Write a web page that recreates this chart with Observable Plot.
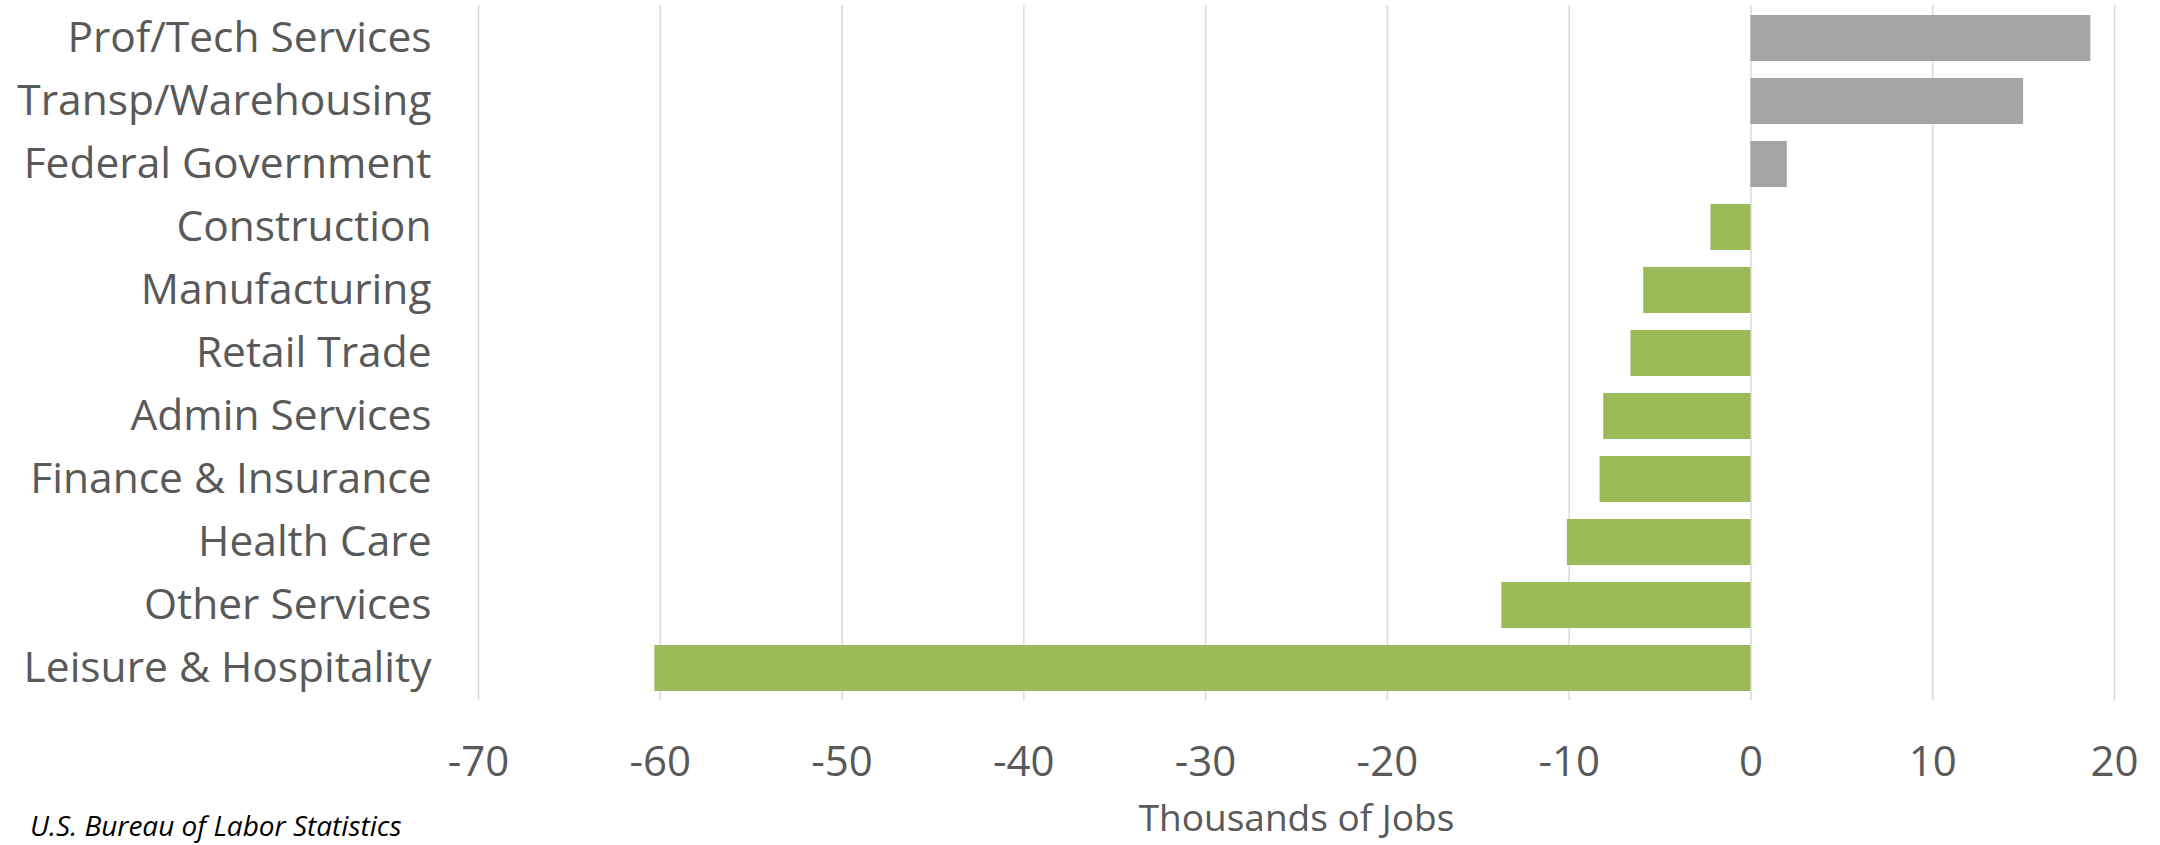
<!DOCTYPE html>
<html>
<head>
<meta charset="utf-8">
<script src="https://cdn.jsdelivr.net/npm/d3@7"></script>
<script src="https://cdn.jsdelivr.net/npm/@observablehq/plot@0.6"></script>
<style>
  html, body { margin: 0; padding: 0; background: #fff; overflow: hidden; }
  #wrap { position: relative; width: 2160px; height: 845px; overflow: hidden; font-family: "Open Sans", sans-serif; }
  #caption { position: absolute; left: 30px; top: 806px; font-size: 28px; font-style: italic; color: #000; white-space: nowrap; }
</style>
</head>
<body>
<div id="wrap">
  <div id="chart"></div>
  <div id="caption">U.S. Bureau of Labor Statistics</div>
</div>
<script>
const categories = ["Prof/Tech Services", "Transp/Warehousing", "Federal Government", "Construction", "Manufacturing", "Retail Trade", "Admin Services", "Finance & Insurance", "Health Care", "Other Services", "Leisure & Hospitality"];
const values = [18.7, 15.0, 2.0, -2.2, -5.9, -6.6, -8.1, -8.3, -10.1, -13.7, -60.3];
const xTicks = [-70, -60, -50, -40, -30, -20, -10, 0, 10, 20];
const xLabel = "Thousands of Jobs";

const data = categories.map((c, i) => ({category: c, value: values[i]}));

const chart = Plot.plot({
  width: 2160,
  height: 845,
  marginLeft: 478,
  marginRight: 46,
  marginTop: 5,
  marginBottom: 145,
  style: {fontFamily: "'Open Sans', sans-serif", background: "#fff", color: "#595959"},
  x: {domain: [-70, 20], ticks: xTicks},
  y: {domain: categories, paddingInner: 0.27, paddingOuter: 0.135},
  marks: [
    Plot.gridX(xTicks, {stroke: "#d9d9d9", strokeOpacity: 1, strokeWidth: 1.5}),
    Plot.barX(data, {x: "value", y: "category", fill: d => d.value > 0 ? "#A5A5A5" : "#9BBB59"}),
    Plot.axisY({tickSize: 0, tickPadding: 47, fontSize: 42.5, fill: "#595959", label: null}),
    Plot.axisX({ticks: xTicks, tickFormat: d => String(d), tickSize: 0, tickPadding: 46, fontSize: 42, fill: "#595959", label: null}),
    Plot.text([xLabel], {frameAnchor: "bottom", dy: 130, fontSize: 37, fill: "#595959", text: d => d})
  ]
});
document.getElementById("chart").appendChild(chart);
</script>
</body>
</html>
